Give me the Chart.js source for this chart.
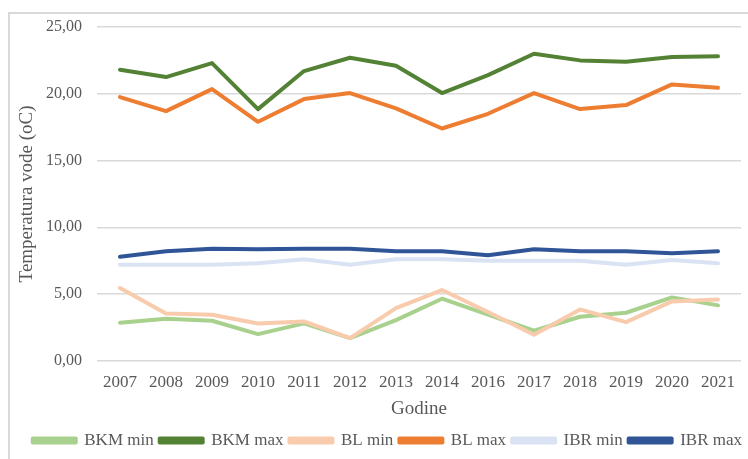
<!DOCTYPE html>
<html>
<head>
<meta charset="utf-8">
<script src="https://cdn.jsdelivr.net/npm/chart.js@4/dist/chart.umd.min.js"></script>
<style>
  body { margin: 0; background: #fff; overflow: hidden; }
  #frame { position: absolute; left: 8px; top: 12px; width: 800px; height: 500px; border: 2px solid #d9d9d9; }
  #wrap { position: absolute; left: 0; top: 0; width: 748px; height: 459px; }
</style>
</head>
<body>
<div id="frame"></div>
<div id="wrap"><canvas id="chart" width="748" height="459"></canvas></div>
<script>
var years = ['2007', '2008', '2009', '2010', '2011', '2012', '2013', '2014', '2016', '2017', '2018', '2019', '2020', '2021'];

var bkmMin = [2.85, 3.15, 3.0, 2.0, 2.8, 1.7, 3.05, 4.65, 3.45, 2.25, 3.3, 3.6, 4.75, 4.15];
var bkmMax = [21.8, 21.25, 22.3, 18.85, 21.7, 22.7, 22.1, 20.05, 21.4, 23.0, 22.5, 22.4, 22.75, 22.8];
var blMin  = [5.45, 3.55, 3.45, 2.8, 2.95, 1.7, 3.95, 5.3, 3.65, 1.95, 3.85, 2.9, 4.45, 4.6];
var blMax  = [19.75, 18.7, 20.35, 17.9, 19.6, 20.05, 18.9, 17.4, 18.5, 20.05, 18.85, 19.15, 20.7, 20.45];
var ibrMin = [7.2, 7.2, 7.2, 7.3, 7.6, 7.2, 7.6, 7.6, 7.5, 7.5, 7.5, 7.2, 7.55, 7.3];
var ibrMax = [7.8, 8.2, 8.4, 8.35, 8.4, 8.4, 8.2, 8.2, 7.9, 8.35, 8.2, 8.2, 8.05, 8.2];

var yTicks = [0, 5, 10, 15, 20, 25];

function line(label, data, color) {
    return {
        label: label,
        data: data,
        borderColor: color,
        backgroundColor: color,
        borderWidth: 4,
        pointRadius: 0,
        tension: 0,
        fill: false,
        borderCapStyle: 'round',
        borderJoinStyle: 'round'
    };
}

// later series on top, like the original
var datasets = [
    line('BKM min', bkmMin, '#a9d18e'),
    line('BKM max', bkmMax, '#548235'),
    line('BL min', blMin, '#f8cbad'),
    line('BL max', blMax, '#ed7d31'),
    line('IBR min', ibrMin, '#dae3f3'),
    line('IBR max', ibrMax, '#2f5597')
].reverse();

var font = "'Liberation Serif', 'Times New Roman', serif";
var grey = '#595959';

var ctx = document.getElementById('chart').getContext('2d');
var chart = new Chart(ctx, {
    type: 'line',
    data: { labels: years, datasets: datasets },
    options: {
        responsive: false,
        animation: false,
        layout: { padding: { left: 0, top: 27, right: 0, bottom: 0 } },
        plugins: {
            tooltip: { enabled: false },
            legend: {
                position: 'bottom',
                align: 'end',
                reverse: true,
                labels: {
                    boxWidth: 43,
                    boxHeight: 4,
                    padding: 6,
                    color: grey,
                    font: { family: font, size: 17 }
                }
            }
        },
        scales: {
            x: {
                offset: true,
                grid: { display: false },
                border: { display: false },
                ticks: { color: grey, font: { family: font, size: 17 }, padding: 4, maxRotation: 0 },
                title: { display: true, text: 'Godine', color: grey, font: { family: font, size: 19 }, padding: { top: 0, bottom: 6 } }
            },
            y: {
                min: 0,
                max: 25,
                afterBuildTicks: function (scale) {
                    scale.ticks = yTicks.map(function (v) { return { value: v }; });
                },
                afterFit: function (scale) { scale.width = 97; },
                grid: { color: '#d9d9d9', lineWidth: 1.5, drawTicks: false },
                border: { display: false },
                ticks: {
                    color: grey,
                    font: { family: font, size: 16 },
                    padding: 15,
                    callback: function (v) { return v.toFixed(2).replace('.', ','); }
                },
                title: { display: true, text: 'Temperatura vode (oC)', color: grey, font: { family: font, size: 19 }, padding: { top: 16, bottom: 0 } }
            },
            // empty strip on the right so the grid stops short of the edge
            yRight: {
                position: 'right',
                min: 0,
                max: 25,
                grid: { display: false },
                border: { display: false },
                ticks: { display: false },
                afterFit: function (scale) { scale.width = 7; }
            }
        }
    }
});
</script>
</body>
</html>
